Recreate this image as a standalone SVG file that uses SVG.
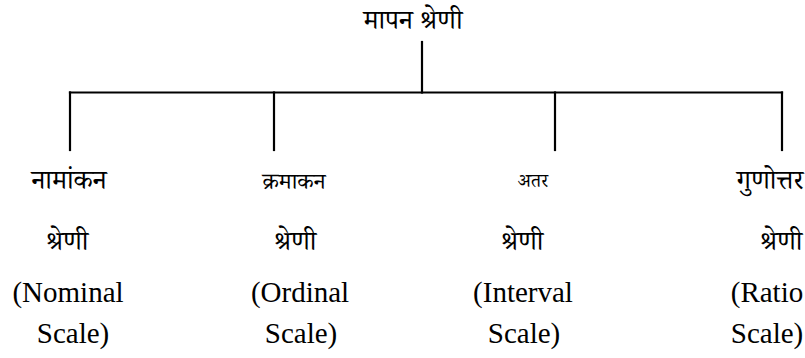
<svg xmlns="http://www.w3.org/2000/svg" width="805" height="358" viewBox="0 0 805 358">
<style>
.bg{fill:#fff}
.ln{stroke:#000;stroke-width:2.2;fill:none;stroke-linecap:square}
.hi{font-family:"Noto Serif Devanagari","Noto Sans Devanagari","Lohit Devanagari","Liberation Serif",serif;font-size:27px;fill:#000;text-anchor:middle}
.en{font-family:"Liberation Serif","Times New Roman",serif;font-size:29px;fill:#000;text-anchor:middle}
.sm{font-size:23px}
.xs{font-size:19px}
</style>
<rect class="bg" x="0" y="0" width="805" height="358"/>
<g id="root"><text class="hi" x="413" y="29">मापन श्रेणी</text></g>
<g id="connectors">
<path class="ln" d="M422 42V92.5"/>
<path class="ln" d="M70 92.5H782"/>
<path class="ln" d="M70 92.5V150"/>
<path class="ln" d="M274 92.5V150"/>
<path class="ln" d="M555 92.5V150"/>
<path class="ln" d="M782 92.5V150"/>
</g>
<g id="nominal">
<text class="hi" x="69" y="189">नामांकन</text>
<text class="hi" x="67" y="250">श्रेणी</text>
<text class="en" x="68" y="302">(Nominal</text>
<text class="en" x="73" y="343">Scale)</text>
</g>
<g id="ordinal">
<text class="hi sm" x="294" y="189">क्रमाकन</text>
<text class="hi" x="295" y="250">श्रेणी</text>
<text class="en" x="300" y="302">(Ordinal</text>
<text class="en" x="301" y="343">Scale)</text>
</g>
<g id="interval">
<text class="hi xs" x="533" y="187">अतर</text>
<text class="hi" x="522" y="250">श्रेणी</text>
<text class="en" x="523" y="302">(Interval</text>
<text class="en" x="524" y="343">Scale)</text>
</g>
<g id="ratio">
<text class="hi" x="770" y="189">गुणोत्तर</text>
<text class="hi" x="781" y="250">श्रेणी</text>
<text class="en" x="767" y="302">(Ratio</text>
<text class="en" x="767" y="343">Scale)</text>
</g>
</svg>
